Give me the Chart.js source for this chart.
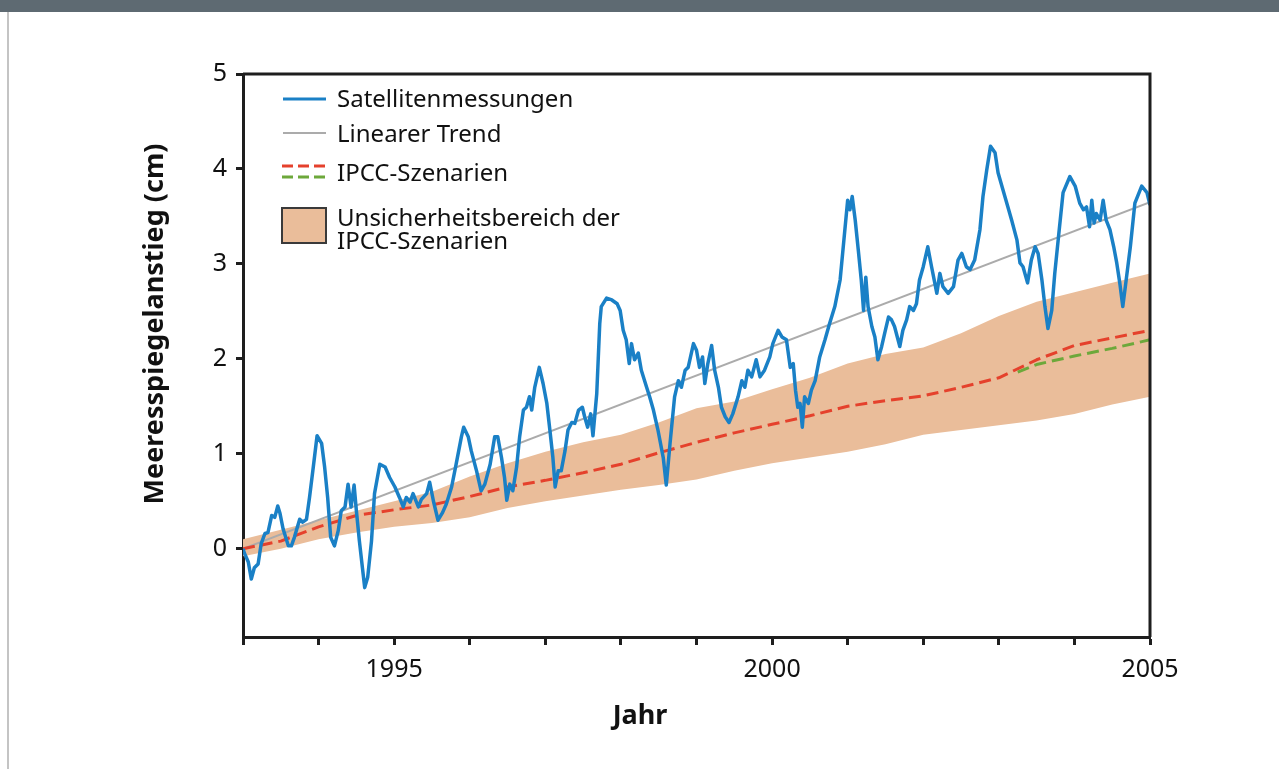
<!DOCTYPE html>
<html lang="de">
<head>
<meta charset="utf-8">
<title>Meeresspiegelanstieg 1993–2005</title>
<script src="https://cdn.jsdelivr.net/npm/chart.js@4/dist/chart.umd.min.js"></script>
<style>
  html, body { margin: 0; padding: 0; background: #ffffff; }
  #wrap { position: relative; width: 1279px; height: 769px; }
  canvas { display: block; }
</style>
</head>
<body>
<div id="wrap"><canvas id="chart" width="1279" height="769"></canvas></div>
<script>
// Satellite altimetry: global mean sea level change (cm) by year
const satYears = [
  1993.00, 1993.02, 1993.07, 1993.11, 1993.15, 1993.20, 1993.24, 1993.29, 1993.33, 1993.38,
  1993.42, 1993.46, 1993.49, 1993.53, 1993.60, 1993.64, 1993.68, 1993.75, 1993.79, 1993.84,
  1993.88, 1993.93, 1993.98, 1994.04, 1994.08, 1994.12, 1994.16, 1994.21, 1994.26, 1994.30,
  1994.35, 1994.39, 1994.43, 1994.47, 1994.50, 1994.54, 1994.58, 1994.61, 1994.65, 1994.70,
  1994.74, 1994.81, 1994.88, 1994.94, 1995.01, 1995.07, 1995.12, 1995.16, 1995.21, 1995.25,
  1995.32, 1995.36, 1995.43, 1995.47, 1995.52, 1995.58, 1995.64, 1995.69, 1995.76, 1995.82,
  1995.89, 1995.92, 1995.98, 1996.02, 1996.09, 1996.15, 1996.20, 1996.27, 1996.33, 1996.37,
  1996.42, 1996.46, 1996.49, 1996.53, 1996.57, 1996.62, 1996.66, 1996.71, 1996.75, 1996.79,
  1996.82, 1996.86, 1996.92, 1996.97, 1997.02, 1997.06, 1997.10, 1997.13, 1997.17, 1997.21,
  1997.26, 1997.30, 1997.35, 1997.39, 1997.44, 1997.49, 1997.52, 1997.56, 1997.60, 1997.63,
  1997.68, 1997.72, 1997.74, 1997.81, 1997.88, 1997.95, 1997.99, 1998.03, 1998.07, 1998.11,
  1998.14, 1998.18, 1998.23, 1998.27, 1998.34, 1998.38, 1998.43, 1998.49, 1998.56, 1998.60,
  1998.65, 1998.71, 1998.76, 1998.80, 1998.85, 1998.89, 1998.96, 1999.00, 1999.04, 1999.08,
  1999.11, 1999.15, 1999.20, 1999.24, 1999.29, 1999.33, 1999.38, 1999.43, 1999.48, 1999.55,
  1999.60, 1999.64, 1999.68, 1999.73, 1999.79, 1999.84, 1999.90, 1999.97, 2000.01, 2000.08,
  2000.13, 2000.19, 2000.24, 2000.28, 2000.31, 2000.34, 2000.37, 2000.40, 2000.43, 2000.48,
  2000.52, 2000.57, 2000.63, 2000.70, 2000.76, 2000.83, 2000.90, 2000.95, 2001.00, 2001.03,
  2001.06, 2001.10, 2001.14, 2001.18, 2001.21, 2001.24, 2001.27, 2001.32, 2001.36, 2001.40,
  2001.45, 2001.49, 2001.54, 2001.58, 2001.62, 2001.69, 2001.73, 2001.78, 2001.82, 2001.87,
  2001.91, 2001.95, 2002.00, 2002.06, 2002.11, 2002.18, 2002.22, 2002.26, 2002.33, 2002.40,
  2002.46, 2002.51, 2002.57, 2002.62, 2002.68, 2002.75, 2002.79, 2002.84, 2002.89, 2002.95,
  2002.99, 2003.04, 2003.08, 2003.12, 2003.17, 2003.24, 2003.28, 2003.32, 2003.38, 2003.43,
  2003.48, 2003.52, 2003.57, 2003.61, 2003.65, 2003.70, 2003.74, 2003.79, 2003.85, 2003.94,
  2004.01, 2004.07, 2004.12, 2004.16, 2004.20, 2004.23, 2004.26, 2004.29, 2004.34, 2004.38,
  2004.42, 2004.47, 2004.52, 2004.56, 2004.60, 2004.64, 2004.68, 2004.74, 2004.80, 2004.89,
  2004.96, 2005.00
];
const satValues = [
  0.00, -0.05, -0.14, -0.32, -0.20, -0.16, 0.05, 0.16, 0.17, 0.35,
  0.33, 0.45, 0.37, 0.21, 0.03, 0.03, 0.12, 0.31, 0.28, 0.31,
  0.54, 0.86, 1.19, 1.11, 0.86, 0.54, 0.12, 0.03, 0.19, 0.40,
  0.44, 0.68, 0.44, 0.67, 0.40, 0.08, -0.20, -0.41, -0.30, 0.08,
  0.58, 0.89, 0.86, 0.75, 0.65, 0.54, 0.44, 0.54, 0.49, 0.58,
  0.44, 0.52, 0.58, 0.70, 0.50, 0.30, 0.38, 0.47, 0.65, 0.89,
  1.18, 1.28, 1.18, 1.03, 0.82, 0.61, 0.68, 0.89, 1.18, 1.18,
  0.96, 0.75, 0.51, 0.68, 0.61, 0.86, 1.18, 1.46, 1.49, 1.60,
  1.46, 1.70, 1.91, 1.74, 1.53, 1.25, 0.96, 0.65, 0.82, 0.82,
  1.03, 1.25, 1.33, 1.32, 1.46, 1.49, 1.39, 1.28, 1.42, 1.19,
  1.63, 2.37, 2.55, 2.64, 2.62, 2.58, 2.51, 2.30, 2.20, 1.95,
  2.16, 1.99, 2.06, 1.88, 1.70, 1.60, 1.46, 1.25, 0.96, 0.67,
  1.11, 1.60, 1.77, 1.70, 1.88, 1.91, 2.16, 2.09, 1.91, 2.02,
  1.74, 1.95, 2.14, 1.88, 1.70, 1.49, 1.39, 1.33, 1.42, 1.60,
  1.77, 1.70, 1.88, 1.81, 1.99, 1.81, 1.88, 2.02, 2.16, 2.30,
  2.23, 2.20, 1.91, 1.95, 1.67, 1.49, 1.53, 1.28, 1.60, 1.53,
  1.67, 1.77, 2.02, 2.20, 2.37, 2.55, 2.83, 3.25, 3.67, 3.57,
  3.71, 3.46, 3.15, 2.83, 2.51, 2.86, 2.55, 2.34, 2.23, 1.99,
  2.13, 2.27, 2.44, 2.41, 2.34, 2.13, 2.30, 2.41, 2.55, 2.51,
  2.58, 2.83, 2.97, 3.18, 2.97, 2.69, 2.90, 2.76, 2.69, 2.76,
  3.04, 3.11, 2.97, 2.94, 3.04, 3.36, 3.71, 3.99, 4.24, 4.17,
  3.96, 3.82, 3.71, 3.60, 3.46, 3.25, 3.01, 2.97, 2.80, 3.04,
  3.18, 3.11, 2.83, 2.55, 2.32, 2.51, 2.90, 3.29, 3.75, 3.92,
  3.82, 3.64, 3.57, 3.60, 3.39, 3.67, 3.43, 3.53, 3.46, 3.67,
  3.46, 3.36, 3.18, 3.01, 2.80, 2.55, 2.80, 3.18, 3.64, 3.82,
  3.75, 3.62
];

// Linear trend of the satellite record
const trendYears = [1993, 2005];
const trendValues = [0.00, 3.65];

// IPCC scenario projections (cm)
const ipccYears = [
  1993, 1993.5, 1994, 1994.5, 1995, 1995.5, 1996, 1996.5, 1997, 1997.5,
  1998, 1998.5, 1999, 1999.5, 2000, 2000.5, 2001, 2001.5, 2002, 2002.5,
  2003, 2003.5, 2004, 2004.5, 2005
];
const ipccRed = [
  0.00, 0.08, 0.23, 0.35, 0.41, 0.46, 0.55, 0.65, 0.72, 0.80,
  0.89, 1.01, 1.12, 1.22, 1.31, 1.40, 1.50, 1.56, 1.61, 1.70,
  1.80, 1.99, 2.14, 2.22, 2.30
];
const ipccGreenYears = [2003.25, 2003.5, 2004, 2004.5, 2005];
const ipccGreen = [1.86, 1.94, 2.03, 2.11, 2.20];

// Uncertainty range of the IPCC scenarios (cm)
const bandUpper = [
  0.10, 0.20, 0.30, 0.40, 0.50, 0.60, 0.76, 0.90, 1.02, 1.12,
  1.20, 1.33, 1.48, 1.55, 1.68, 1.80, 1.95, 2.05, 2.12, 2.27,
  2.45, 2.60, 2.70, 2.80, 2.90
];
const bandLower = [
  -0.08, 0.00, 0.10, 0.17, 0.23, 0.27, 0.33, 0.43, 0.50, 0.56,
  0.62, 0.67, 0.73, 0.82, 0.90, 0.96, 1.02, 1.10, 1.20, 1.25,
  1.30, 1.35, 1.42, 1.52, 1.60
];

// Axis ticks
const yTickValues = [0, 1, 2, 3, 4, 5];
const xTickValues = [1993, 1994, 1995, 1996, 1997, 1998, 1999, 2000, 2001, 2002, 2003, 2004, 2005];
const xTickLabels = ['', '', '1995', '', '', '', '', '2000', '', '', '', '', '2005'];

// Text
const xTitle = 'Jahr';
const yTitle = 'Meeresspiegelanstieg (cm)';
const legendLabels = ['Satellitenmessungen', 'Linearer Trend', 'IPCC-Szenarien', 'Unsicherheitsbereich der', 'IPCC-Szenarien'];

const COLORS = {
  sat: '#1a80c6',
  trend: '#ababab',
  red: '#e5412c',
  green: '#6da83b',
  band: '#eabd9a',
  axis: '#1e1e1e'
};
const FONT = '"Noto Sans", "Open Sans", sans-serif';

const zip = (xs, ys) => xs.map((x, i) => ({ x: x, y: ys[i] }));

// Page furniture, frame, titles and legend
const decorPlugin = {
  id: 'decor',
  beforeDraw(chart) {
    const c = chart.ctx;
    c.save();
    c.fillStyle = '#ffffff';
    c.fillRect(0, 0, chart.width, chart.height);
    c.fillStyle = '#5e6a72';
    c.fillRect(0, 0, chart.width, 12);
    c.fillStyle = '#c4c4c4';
    c.fillRect(7, 12, 2, chart.height - 12);
    c.restore();
  },
  afterDraw(chart) {
    const c = chart.ctx;
    const a = chart.chartArea;
    c.save();
    // top and right frame edges
    c.strokeStyle = COLORS.axis;
    c.lineWidth = 3;
    c.beginPath();
    c.moveTo(a.left, a.top);
    c.lineTo(a.right, a.top);
    c.lineTo(a.right, a.bottom);
    c.stroke();

    // axis titles
    c.fillStyle = '#111';
    c.font = 'bold 27px ' + FONT;
    c.textAlign = 'center';
    c.textBaseline = 'middle';
    c.fillText(xTitle, 640, 716);
    c.save();
    c.translate(155, 324);
    c.rotate(-Math.PI / 2);
    c.fillText(yTitle, 0, 0);
    c.restore();

    // legend
    const lx0 = 283, lx1 = 326, tx = 337;
    c.lineCap = 'butt';
    c.strokeStyle = COLORS.sat; c.lineWidth = 3; c.setLineDash([]);
    c.beginPath(); c.moveTo(lx0, 99); c.lineTo(lx1, 99); c.stroke();
    c.strokeStyle = COLORS.trend; c.lineWidth = 2;
    c.beginPath(); c.moveTo(lx0, 133); c.lineTo(lx1, 133); c.stroke();
    c.lineWidth = 3; c.setLineDash([11, 5]);
    c.strokeStyle = COLORS.red;
    c.beginPath(); c.moveTo(lx0 - 1, 166); c.lineTo(lx1 + 1, 166); c.stroke();
    c.strokeStyle = COLORS.green;
    c.beginPath(); c.moveTo(lx0 - 1, 177); c.lineTo(lx1 + 1, 177); c.stroke();
    c.setLineDash([]);
    c.fillStyle = COLORS.band;
    c.fillRect(282, 208, 44, 35);
    c.strokeStyle = '#3a3a3a'; c.lineWidth = 2;
    c.strokeRect(282, 208, 44, 35);

    c.fillStyle = '#111';
    c.font = '24px ' + FONT;
    c.textAlign = 'left';
    c.textBaseline = 'alphabetic';
    c.fillText(legendLabels[0], tx, 107);
    c.fillText(legendLabels[1], tx, 142);
    c.fillText(legendLabels[2], tx, 181);
    c.fillText(legendLabels[3], tx, 226);
    c.fillText(legendLabels[4], tx, 249);
    c.restore();
  }
};

const ctx = document.getElementById('chart').getContext('2d');
new Chart(ctx, {
  type: 'line',
  data: {
    datasets: [
      { label: legendLabels[0], data: zip(satYears, satValues), borderColor: COLORS.sat, borderWidth: 3.5, fill: false },
      { label: 'IPCC-Szenarien (B)', data: zip(ipccGreenYears, ipccGreen), borderColor: COLORS.green, borderWidth: 3, borderDash: [12, 6], fill: false },
      { label: legendLabels[2], data: zip(ipccYears, ipccRed), borderColor: COLORS.red, borderWidth: 3, borderDash: [12, 6], fill: false },
      { label: legendLabels[1], data: zip(trendYears, trendValues), borderColor: COLORS.trend, borderWidth: 2, fill: false },
      { label: 'Obergrenze', data: zip(ipccYears, bandUpper), borderWidth: 0, borderColor: 'rgba(0,0,0,0)', backgroundColor: COLORS.band, fill: '+1' },
      { label: 'Untergrenze', data: zip(ipccYears, bandLower), borderWidth: 0, borderColor: 'rgba(0,0,0,0)', fill: false }
    ]
  },
  options: {
    responsive: false,
    animation: false,
    devicePixelRatio: 1,
    layout: { padding: { top: 74, right: 129, left: 0, bottom: 0 } },
    elements: { point: { radius: 0 }, line: { tension: 0, borderJoinStyle: 'round', borderCapStyle: 'butt' } },
    plugins: { legend: { display: false }, tooltip: { enabled: false }, title: { display: false } },
    scales: {
      x: {
        type: 'linear',
        min: 1993,
        max: 2005,
        afterBuildTicks: s => { s.ticks = xTickValues.map(v => ({ value: v })); },
        afterFit: s => { s.height = 132; },
        grid: { drawOnChartArea: false, drawTicks: true, tickLength: 8, tickWidth: 3, tickColor: COLORS.axis },
        border: { display: true, color: COLORS.axis, width: 3 },
        ticks: {
          autoSkip: false, maxRotation: 0, padding: 10, color: '#111',
          font: { family: FONT, size: 25 },
          callback: (v) => { const i = xTickValues.indexOf(v); return i >= 0 ? xTickLabels[i] : ''; }
        }
      },
      y: {
        type: 'linear',
        min: -0.93,
        max: 5,
        afterBuildTicks: s => { s.ticks = yTickValues.map(v => ({ value: v })); },
        afterFit: s => { s.width = 243; },
        grid: { drawOnChartArea: false, drawTicks: true, tickLength: 7, tickWidth: 3, tickColor: COLORS.axis },
        border: { display: true, color: COLORS.axis, width: 3 },
        ticks: { padding: 9, color: '#111', font: { family: FONT, size: 25 }, callback: v => String(v) }
      }
    }
  },
  plugins: [decorPlugin]
});
</script>
</body>
</html>
